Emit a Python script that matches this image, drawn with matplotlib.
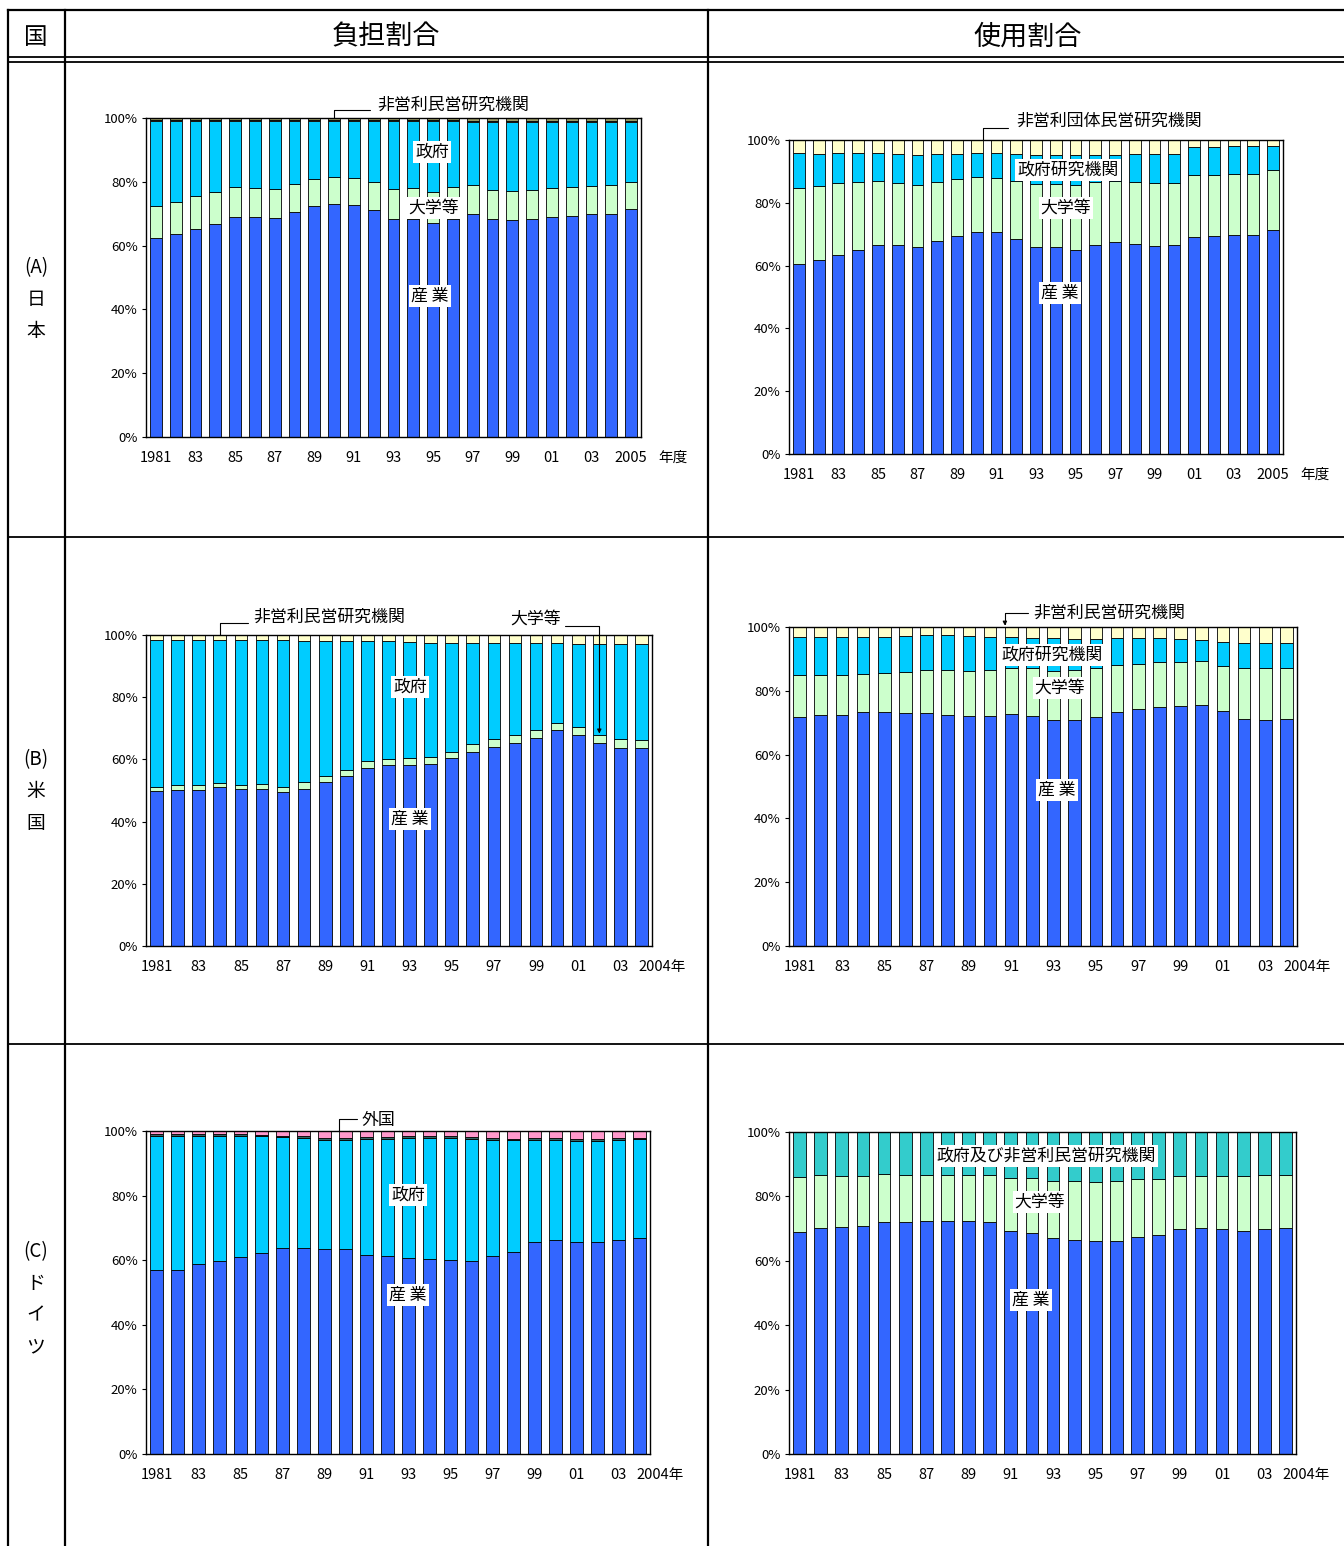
import matplotlib
matplotlib.use("Agg")
import matplotlib.pyplot as plt
import numpy as np
from matplotlib.lines import Line2D

plt.rcParams['font.family'] = ['Noto Sans CJK JP', 'DejaVu Sans']

W, H = 1344, 1546

# ---- data (shares in %) ----
years_jp = list(range(1981, 2006))
years_us = list(range(1981, 2005))

# Japan, funding (負担割合)
jp_fund_ind = [62.4, 63.7, 65.2, 66.9, 69.0, 68.9, 68.7, 70.5, 72.4, 73.1, 72.7, 71.2, 68.2,
               68.2, 67.2, 68.3, 69.8, 68.4, 68.0, 68.3, 69.1, 69.4, 69.9, 69.9, 71.5]
jp_fund_univ = [10.0, 10.1, 10.2, 9.9, 9.3, 9.1, 9.0, 8.8, 8.5, 8.4, 8.5, 8.8, 9.5,
                9.8, 9.5, 10.1, 9.1, 9.1, 9.2, 9.1, 9.0, 9.0, 8.9, 9.1, 8.5]
jp_fund_gov = [26.6, 25.2, 23.6, 22.2, 20.7, 21.0, 21.3, 19.7, 18.1, 17.5, 17.8, 19.0, 21.3,
               21.0, 22.3, 20.6, 19.9, 21.3, 21.6, 21.4, 20.7, 20.4, 20.0, 19.8, 18.8]
jp_fund_np = [0.5, 0.5, 0.5, 0.5, 0.5, 0.5, 0.5, 0.5, 0.5, 0.5, 0.5, 0.5, 0.5,
              0.5, 0.5, 0.5, 0.4, 0.4, 0.4, 0.4, 0.4, 0.4, 0.4, 0.4, 0.4]
jp_fund_for = [0.5, 0.5, 0.5, 0.5, 0.5, 0.5, 0.5, 0.5, 0.5, 0.5, 0.5, 0.5, 0.5,
               0.5, 0.5, 0.5, 0.8, 0.8, 0.8, 0.8, 0.8, 0.8, 0.8, 0.8, 0.8]

# Japan, performance (使用割合)
jp_use_ind = [60.5, 61.8, 63.4, 65.0, 66.7, 66.5, 65.9, 67.8, 69.5, 70.7, 70.7, 68.6, 65.9,
              65.9, 65.1, 66.6, 67.6, 66.8, 66.3, 66.6, 69.1, 69.3, 69.8, 69.8, 71.3]
jp_use_univ = [24.2, 23.5, 22.8, 21.7, 20.1, 19.8, 19.9, 18.9, 18.0, 17.4, 17.3, 18.2, 20.0,
               20.0, 20.5, 19.9, 19.2, 19.9, 19.9, 19.6, 19.6, 19.5, 19.3, 19.3, 19.1]
jp_use_gov = [11.1, 10.3, 9.7, 9.2, 9.1, 9.1, 9.4, 8.7, 8.2, 7.7, 7.8, 8.6, 9.4,
              9.2, 9.7, 8.8, 8.5, 8.7, 9.2, 9.2, 9.1, 9.0, 8.9, 8.9, 7.6]
jp_use_np = [4.2, 4.4, 4.1, 4.1, 4.1, 4.6, 4.8, 4.6, 4.3, 4.2, 4.2, 4.6, 4.7,
             4.9, 4.7, 4.7, 4.7, 4.6, 4.6, 4.6, 2.2, 2.2, 2.0, 2.0, 2.0]

# USA, funding
us_fund_ind = [49.7, 50.2, 50.1, 51.0, 50.4, 50.6, 49.4, 50.6, 52.7, 54.6, 57.2, 58.1,
               58.1, 58.5, 60.3, 62.4, 64.1, 65.4, 67.0, 69.5, 67.8, 65.4, 63.8, 63.6]
us_fund_univ = [1.5, 1.6, 1.6, 1.5, 1.5, 1.6, 1.8, 2.0, 2.0, 2.1, 2.2, 2.1,
                2.3, 2.4, 2.2, 2.4, 2.3, 2.3, 2.5, 2.3, 2.5, 2.6, 2.7, 2.7]
us_fund_gov = [47.3, 46.7, 46.8, 46.0, 46.6, 46.3, 47.1, 45.6, 43.5, 41.5, 38.8, 37.8,
               37.5, 36.6, 35.0, 32.7, 31.1, 29.8, 28.0, 25.7, 26.9, 29.1, 30.6, 30.8]
us_fund_np = [1.5, 1.5, 1.5, 1.5, 1.5, 1.5, 1.7, 1.8, 1.8, 1.8, 1.8, 2.0,
              2.1, 2.5, 2.5, 2.5, 2.5, 2.5, 2.5, 2.5, 2.8, 2.9, 2.9, 2.9]

# USA, performance
us_use_ind = [71.7, 72.5, 72.5, 73.2, 73.5, 73.1, 72.9, 72.4, 72.0, 72.2, 72.7, 72.0,
              70.9, 70.7, 71.9, 73.2, 74.3, 74.9, 75.3, 75.7, 73.6, 71.2, 70.8, 71.1]
us_use_univ = [13.2, 12.6, 12.4, 12.1, 12.2, 12.8, 13.5, 14.1, 14.3, 14.3, 14.5, 15.0,
               15.4, 15.8, 15.3, 14.9, 14.2, 14.0, 13.7, 13.5, 14.3, 16.0, 16.2, 16.1]
us_use_gov = [11.9, 11.9, 12.0, 11.7, 11.3, 11.4, 11.0, 10.9, 10.8, 10.4, 9.6, 9.7,
              10.2, 9.8, 9.1, 8.4, 8.1, 7.7, 7.3, 6.8, 7.5, 7.8, 8.1, 7.9]
us_use_np = [3.2, 3.0, 3.1, 3.0, 3.0, 2.7, 2.6, 2.6, 2.9, 3.1, 3.2, 3.3,
             3.5, 3.7, 3.7, 3.5, 3.4, 3.4, 3.7, 4.0, 4.6, 5.0, 4.9, 4.9]

# Germany, funding
de_fund_ind = [56.9, 56.9, 58.9, 59.6, 61.1, 62.2, 63.7, 63.7, 63.5, 63.6, 61.7, 61.2,
               60.8, 60.4, 60.1, 59.6, 61.4, 62.5, 65.5, 66.1, 65.7, 65.6, 66.4, 67.0]
de_fund_gov = [41.6, 41.6, 39.6, 38.9, 37.4, 36.2, 34.4, 34.1, 33.8, 33.7, 35.9, 36.4,
               37.1, 37.4, 37.8, 38.0, 35.8, 34.6, 31.8, 31.2, 31.3, 31.4, 30.9, 30.4]
de_fund_oth = [0.5] * 24
de_fund_for = [1.0, 1.0, 1.0, 1.0, 1.0, 1.1, 1.4, 1.7, 2.2, 2.2, 1.9, 1.9,
               1.6, 1.7, 1.6, 1.9, 2.3, 2.4, 2.2, 2.2, 2.5, 2.5, 2.2, 2.1]

# Germany, performance
de_use_ind = [68.8, 70.3, 70.5, 70.7, 72.2, 72.0, 72.3, 72.3, 72.3, 72.0, 69.3, 68.5,
              67.2, 66.6, 66.3, 66.0, 67.5, 67.9, 69.8, 70.3, 69.9, 69.2, 69.8, 70.3]
de_use_univ = [17.2, 16.3, 15.8, 15.6, 14.7, 14.7, 14.4, 14.4, 14.3, 14.6, 16.3, 17.2,
               17.5, 18.1, 18.2, 18.7, 17.9, 17.5, 16.4, 16.0, 16.3, 17.0, 16.8, 16.4]
de_use_gov = [14.0, 13.4, 13.7, 13.7, 13.1, 13.3, 13.3, 13.3, 13.4, 13.4, 14.4, 14.3,
              15.3, 15.3, 15.5, 15.3, 14.6, 14.6, 13.8, 13.7, 13.8, 13.8, 13.4, 13.3]

BLUE = '#3366FF'
GREEN = '#CCFFCC'
CYAN = '#00CCFF'
YELLOW = '#FFFFCC'
OLIVE = '#999966'
PINK = '#FF99CC'
TEAL = '#33CCCC'
DARK = '#336666'

LABEL_SIZE = 12.2


def fx(x):
    return x / W


def fy(y):
    return 1 - y / H


fig = plt.figure(figsize=(W / 100, H / 100), dpi=100)


def hline(y, x0, x1, lw=1.5):
    fig.add_artist(Line2D([fx(x0), fx(x1)], [fy(y), fy(y)], color='black', lw=lw))


def vline(x, y0, y1, lw=1.5):
    fig.add_artist(Line2D([fx(x), fx(x)], [fy(y0), fy(y1)], color='black', lw=lw))


# table frame
hline(10, 8, 1344, 1.6)
hline(57, 8, 1344, 1.3)
hline(62, 8, 1344, 1.3)
hline(537, 8, 1344, 1.3)
hline(1044, 8, 1344, 1.3)
vline(8, 10, 1546, 1.6)
vline(65, 10, 1546, 1.6)
vline(708, 10, 1546, 1.6)

fig.text(fx(36), fy(37), '国', fontsize=17, ha='center', va='center')
fig.text(fx(386), fy(37), '負担割合', fontsize=19.5, ha='center', va='center')
fig.text(fx(1028), fy(37), '使用割合', fontsize=19.5, ha='center', va='center')

row_labels = [('(A)', '日', '本'), ('(B)', '米', '国'), ('(C)', 'ド', 'イ', 'ツ')]
row_y0 = [268, 760, 1252]
for labs, y0 in zip(row_labels, row_y0):
    for k, s in enumerate(labs):
        fig.text(fx(36), fy(y0 + 31.5 * k), s, fontsize=13.5, ha='center', va='center')


def make_ax(left, top, right, bottom):
    return fig.add_axes([fx(left), fy(bottom), fx(right) - fx(left), (bottom - top) / H])


def draw(ax, years, series, colors, last_label, last_dx, ylab_size=9.5):
    x = np.arange(len(years))
    bottom = np.zeros(len(years))
    for vals, c in zip(series, colors):
        vals = np.array(vals)
        ax.bar(x, vals, width=0.6, bottom=bottom, color=c, edgecolor='black', linewidth=0.6)
        bottom += vals
    ax.set_xlim(-0.5, len(years) - 0.5)
    ax.set_ylim(0, 100)
    ax.set_yticks([0, 20, 40, 60, 80, 100])
    ax.set_yticklabels(['0%', '20%', '40%', '60%', '80%', '100%'], fontsize=ylab_size)
    ticks = [i for i, y in enumerate(years) if y % 2 == 1]
    labels = []
    for i in ticks:
        y = years[i]
        if y == 1981 or y == 2005:
            labels.append(str(y))
        else:
            labels.append('%02d' % (y % 100))
    ax.set_xticks(ticks)
    ax.set_xticklabels(labels, fontsize=10.5)
    ax.tick_params(axis='x', length=0, pad=10)
    ax.tick_params(axis='y', length=3, pad=3)
    for sp in ax.spines.values():
        sp.set_linewidth(1.0)
    ax.annotate(last_label, xy=(len(years) - 1, 0), xycoords=('data', 'axes fraction'),
                xytext=(last_dx, -15), textcoords='offset points',
                ha='center', va='center', fontsize=10.5, annotation_clip=False)


def label(x, y, s, size=LABEL_SIZE):
    fig.text(fx(x), fy(y), s, fontsize=size, ha='center', va='center',
             bbox=dict(facecolor='white', edgecolor='none', pad=1.5))


def leader(ax, xd, yd, x0, y0, arrow=False):
    ax.annotate('', xy=(xd, yd), xycoords='data',
                xytext=(x0, H - y0), textcoords='figure pixels', annotation_clip=False,
                arrowprops=dict(arrowstyle='-|>' if arrow else '-', color='black', lw=0.8,
                                mutation_scale=6, shrinkA=0, shrinkB=0,
                                connectionstyle='angle,angleA=0,angleB=90,rad=0'))


# (A) Japan
ax = make_ax(146, 118, 641, 437)
draw(ax, years_jp, [jp_fund_ind, jp_fund_univ, jp_fund_gov, jp_fund_np, jp_fund_for],
     [BLUE, GREEN, CYAN, YELLOW, OLIVE], '年度', 30)
leader(ax, 9, 100, 370, 110)
fig.text(fx(377), fy(105), '非営利民営研究機関', fontsize=LABEL_SIZE, ha='left', va='center')
label(432, 152, '政府')
label(434, 208, '大学等')
label(430, 296, '産 業')

ax = make_ax(789, 140, 1283, 454)
draw(ax, years_jp, [jp_use_ind, jp_use_univ, jp_use_gov, jp_use_np],
     [BLUE, GREEN, CYAN, YELLOW], '年度', 30)
leader(ax, 9.3, 100, 1008, 128)
fig.text(fx(1016), fy(121), '非営利団体民営研究機関', fontsize=LABEL_SIZE, ha='left', va='center')
label(1068, 170, '政府研究機関')
label(1066, 208, '大学等')
label(1060, 293, '産 業')

# (B) USA
ax = make_ax(146, 635, 652, 946)
draw(ax, years_us, [us_fund_ind, us_fund_univ, us_fund_gov, us_fund_np],
     [BLUE, GREEN, CYAN, YELLOW], '2004年', 15)
leader(ax, 3, 100, 248, 623)
fig.text(fx(253), fy(617), '非営利民営研究機関', fontsize=LABEL_SIZE, ha='left', va='center')
leader(ax, 21, 68.3, 565, 626, arrow=True)
fig.text(fx(536), fy(619), '大学等', fontsize=LABEL_SIZE, ha='center', va='center')
label(410, 687, '政府')
label(410, 819, '産 業')

ax = make_ax(789, 627, 1297, 946)
draw(ax, years_us, [us_use_ind, us_use_univ, us_use_gov, us_use_np],
     [BLUE, GREEN, CYAN, YELLOW], '2004年', 15)
leader(ax, 9.7, 100.4, 1028, 613, arrow=True)
fig.text(fx(1033), fy(613), '非営利民営研究機関', fontsize=LABEL_SIZE, ha='left', va='center')
label(1052, 655, '政府研究機関')
label(1060, 688, '大学等')
label(1057, 790, '産 業')

# (C) Germany
ax = make_ax(146, 1131, 650, 1454)
draw(ax, years_us, [de_fund_ind, de_fund_gov, de_fund_oth, de_fund_for],
     [BLUE, CYAN, DARK, PINK], '2004年', 15)
leader(ax, 8.7, 100, 357, 1119)
fig.text(fx(362), fy(1120), '外国', fontsize=LABEL_SIZE, ha='left', va='center')
label(408, 1195, '政府')
label(408, 1295, '産 業')

ax = make_ax(789, 1132, 1296, 1454)
draw(ax, years_us, [de_use_ind, de_use_univ, de_use_gov],
     [BLUE, GREEN, TEAL], '2004年', 15)
label(1046, 1156, '政府及び非営利民営研究機関')
label(1040, 1202, '大学等')
label(1031, 1300, '産 業')

fig.savefig('out.png', dpi=100)
